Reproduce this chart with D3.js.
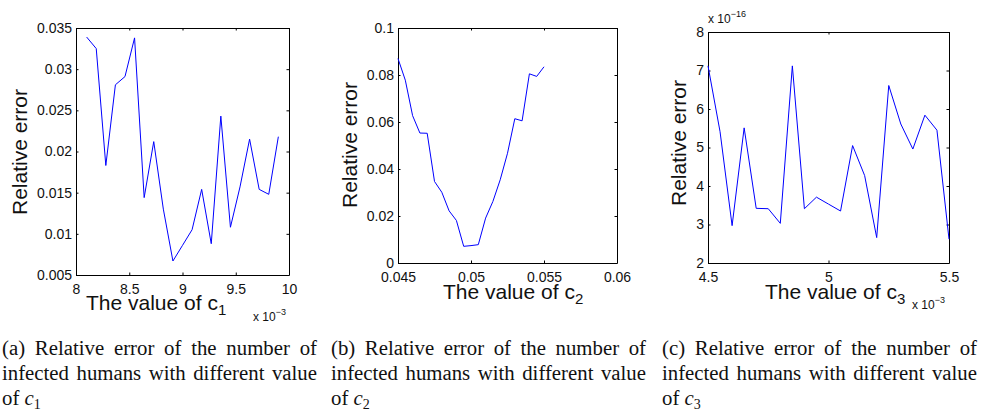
<!DOCTYPE html>
<html>
<head>
<meta charset="utf-8">
<script src="https://d3js.org/d3.v7.min.js"></script>
<style>
  body { margin: 0; background: #fff; }
  #wrap { position: relative; width: 981px; height: 412px; }
  svg { position: absolute; left: 0; top: 0; }
  .cap {
    position: absolute; top: 335px; width: 315px;
    font-family: "Liberation Serif", "Times New Roman", serif;
    font-size: 20.8px; line-height: 25px; color: #111;
    text-align: justify;
  }
  .cap sub { font-size: 14px; vertical-align: -4px; line-height: 0; }
  .tick text { font-family: "Liberation Sans", Arial, sans-serif; font-size: 14px; fill: #111; }
  .lbl { font-family: "Liberation Sans", Arial, sans-serif; font-size: 21px; fill: #111; }
  .mult { font-family: "Liberation Sans", Arial, sans-serif; font-size: 12px; fill: #111; }
</style>
</head>
<body>
<div id="wrap">
  <svg id="chart" width="981" height="412"></svg>
  <div class="cap" style="left:2px">(a) Relative error of the number of infected humans with different value of <i>c</i><sub>1</sub></div>
  <div class="cap" style="left:331px">(b) Relative error of the number of infected humans with different value of <i>c</i><sub>2</sub></div>
  <div class="cap" style="left:662px">(c) Relative error of the number of infected humans with different value of <i>c</i><sub>3</sub></div>
</div>
<script>
  // panel (a): c1 vs relative error
  const c1 = [0.0081, 0.00819, 0.00828, 0.00837, 0.00846, 0.00855, 0.00864, 0.00873, 0.00882, 0.00891, 0.0090,
              0.00909, 0.00918, 0.00927, 0.00936, 0.00945, 0.00954, 0.00963, 0.00972, 0.00981, 0.0099];
  const err1 = [0.0339, 0.0325, 0.0183, 0.0281, 0.0291, 0.0338, 0.0144, 0.0212, 0.0130, 0.0067, 0.0086,
                0.0105, 0.0154, 0.0088, 0.0243, 0.0108, 0.0157, 0.0215, 0.0154, 0.0148, 0.0218];
  const xTicks1 = [0.008, 0.0085, 0.009, 0.0095, 0.010];
  const yTicks1 = [0.005, 0.01, 0.015, 0.02, 0.025, 0.03, 0.035];

  // panel (b): c2 vs relative error
  const c2 = [0.045, 0.0455, 0.046, 0.0465, 0.047, 0.0475, 0.048, 0.0485, 0.049, 0.0495, 0.05,
              0.0505, 0.051, 0.0515, 0.052, 0.0525, 0.053, 0.0535, 0.054, 0.0545, 0.055];
  const err2 = [0.0870, 0.0778, 0.0627, 0.0553, 0.0552, 0.0347, 0.0301, 0.0222, 0.0181, 0.0071, 0.0074,
                0.0078, 0.0191, 0.0262, 0.0354, 0.0467, 0.0614, 0.0605, 0.0805, 0.0794, 0.0835];
  const xTicks2 = [0.045, 0.05, 0.055, 0.06];
  const yTicks2 = [0, 0.02, 0.04, 0.06, 0.08, 0.1];

  // panel (c): c3 vs relative error (x 1e-16)
  const c3 = [0.0045, 0.00455, 0.0046, 0.00465, 0.0047, 0.00475, 0.0048, 0.00485, 0.0049, 0.00495, 0.0050,
              0.00505, 0.0051, 0.00515, 0.0052, 0.00525, 0.0053, 0.00535, 0.0054, 0.00545, 0.0055];
  const err3 = [7.12e-16, 5.41e-16, 2.97e-16, 5.51e-16, 3.42e-16, 3.41e-16, 3.03e-16, 7.12e-16, 3.41e-16, 3.71e-16, 3.53e-16,
                3.35e-16, 5.05e-16, 4.27e-16, 2.66e-16, 6.61e-16, 5.61e-16, 4.96e-16, 5.84e-16, 5.45e-16, 2.62e-16];
  const xTicks3 = [0.0045, 0.005, 0.0055];
  const yTicks3 = [2e-16, 3e-16, 4e-16, 5e-16, 6e-16, 7e-16, 8e-16];

  const svg = d3.select("#chart");

  // matlab-ish number: strip float noise
  const clean = k => d => String(+(d * k).toPrecision(6));

  function drawPanel(p) {
    const x = d3.scaleLinear().domain(p.xDomain).range([p.left, p.right]);
    const y = d3.scaleLinear().domain(p.yDomain).range([p.bottom, p.top]);
    const g = svg.append("g");

    // bottom & left axes with labels, ticks pointing inward
    g.append("g")
      .attr("transform", `translate(0,${p.bottom})`)
      .call(d3.axisBottom(x).tickValues(p.xTicks).tickFormat(clean(p.xk)).tickSize(-2.5).tickSizeOuter(0).tickPadding(6))
      .call(a => a.selectAll(".tick text").attr("dy", "0.9em"));
    g.append("g")
      .attr("transform", `translate(${p.left},0)`)
      .call(d3.axisLeft(y).tickValues(p.yTicks).tickFormat(clean(p.yk)).tickSize(-2.5).tickSizeOuter(0).tickPadding(4));
    // top & right: ticks only
    g.append("g")
      .attr("transform", `translate(0,${p.top})`)
      .call(d3.axisTop(x).tickValues(p.xTicks).tickFormat("").tickSize(-2.5).tickSizeOuter(0));
    g.append("g")
      .attr("transform", `translate(${p.right},0)`)
      .call(d3.axisRight(y).tickValues(p.yTicks).tickFormat("").tickSize(-2.5).tickSizeOuter(0));
    g.selectAll(".domain").attr("stroke", "#000");
    g.selectAll(".tick line").attr("stroke", "#000");

    const pts = p.xs.map((v, i) => [v, p.ys[i]]);
    g.append("path")
      .datum(pts)
      .attr("fill", "none")
      .attr("stroke", "#0000ff")
      .attr("stroke-width", 1)
      .attr("d", d3.line().x(d => x(d[0])).y(d => y(d[1])));

    // x label with subscript
    const xl = g.append("text").attr("class", "lbl").attr("x", p.xlX).attr("y", p.xlY);
    xl.append("tspan").text("The value of c");
    xl.append("tspan").attr("font-size", 15).attr("dy", 5).text(p.sub);

    // y label
    g.append("text").attr("class", "lbl")
      .attr("transform", `translate(${p.ylX},${p.ylY}) rotate(-90)`)
      .attr("text-anchor", "middle")
      .text("Relative error");

    // exponent multipliers
    (p.mult || []).forEach(m => {
      const t = g.append("text").attr("class", "mult").attr("x", m.x).attr("y", m.y);
      t.append("tspan").text("x 10");
      t.append("tspan").attr("font-size", 9).attr("dy", -6).text(m.e);
    });
  }

  drawPanel({
    left: 76, right: 289, top: 28, bottom: 275,
    xDomain: [0.008, 0.010], yDomain: [0.005, 0.035],
    xTicks: xTicks1, yTicks: yTicks1, xk: 1e3, yk: 1,
    xs: c1, ys: err1, sub: "1",
    xlX: 86, xlY: 310, ylX: 27, ylY: 152,
    mult: [{ x: 253, y: 321, e: "\u22123" }]
  });

  drawPanel({
    left: 398, right: 617, top: 28, bottom: 263,
    xDomain: [0.045, 0.06], yDomain: [0, 0.1],
    xTicks: xTicks2, yTicks: yTicks2, xk: 1, yk: 1,
    xs: c2, ys: err2, sub: "2",
    xlX: 443, xlY: 299, ylX: 357, ylY: 145
  });

  drawPanel({
    left: 708, right: 949, top: 32, bottom: 263,
    xDomain: [0.0045, 0.0055], yDomain: [2e-16, 8e-16],
    xTicks: xTicks3, yTicks: yTicks3, xk: 1e3, yk: 1e16,
    xs: c3, ys: err3, sub: "3",
    xlX: 765, xlY: 299, ylX: 686, ylY: 143,
    mult: [{ x: 912, y: 309, e: "\u22123" }, { x: 708, y: 23, e: "\u221216" }]
  });
</script>
</body>
</html>
